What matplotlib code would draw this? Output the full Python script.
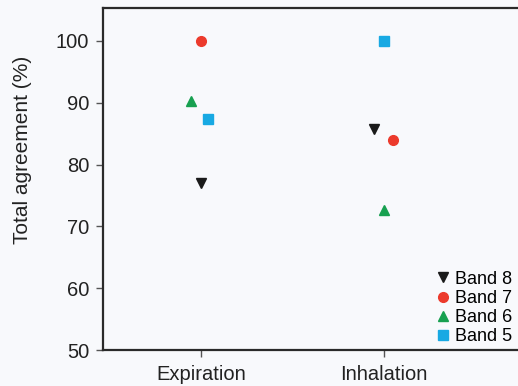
import numpy as np
import matplotlib
matplotlib.use('Agg')
import matplotlib.pyplot as plt

# categories and band values
phases = ['Expiration', 'Inhalation']
bands = ['Band 8', 'Band 7', 'Band 6', 'Band 5']
band8 = [77.0, 85.8]
band7 = [100.0, 84.0]
band6 = [90.3, 72.6]
band5 = [87.3, 100.0]

plt.rcParams['font.family'] = ['Liberation Sans', 'DejaVu Sans']

bg = '#f8f9fc'
fig = plt.figure(figsize=(5.18, 3.86), dpi=100, facecolor=bg)
ax = fig.add_axes([0.199, 0.093, 0.801, 0.886], facecolor=bg)

x = np.arange(len(phases))
# small horizontal offsets so markers don't overlap
ax.plot(x + np.array([0.0, -0.055]), band8, 'v', color='#1a1a1a', ms=7.5, ls='none', label=bands[0])
ax.plot(x + np.array([0.0, 0.045]), band7, 'o', color='#ec3a2c', ms=7, ls='none', label=bands[1])
ax.plot(x + np.array([-0.055, 0.0]), band6, '^', color='#17a050', ms=7.5, ls='none', label=bands[2])
ax.plot(x + np.array([0.04, 0.0]), band5, 's', color='#18a9e3', ms=7, ls='none', label=bands[3])

ax.set_xlim(-0.535, 1.73)
ax.set_ylim(50, 105.3)
ax.set_xticks(x)
ax.set_xticklabels(phases)
ax.set_yticks([50, 60, 70, 80, 90, 100])
ax.set_ylabel('Total agreement (%)', fontsize=15, color='#222222')
ax.yaxis.set_label_coords(-0.172, 0.585)

for s in ['left', 'bottom', 'top']:
    ax.spines[s].set_linewidth(1.6)
    ax.spines[s].set_color('#2a2a2a')
ax.spines['right'].set_visible(False)
ax.tick_params(direction='out', length=5, width=1, colors='#555555',
               labelsize=14.5, labelcolor='#222222')
ax.tick_params(axis='y', pad=5)
ax.tick_params(axis='x', pad=6)

leg = ax.legend(loc='lower right', bbox_to_anchor=(1.01, -0.015), frameon=False,
                fontsize=13, handletextpad=0.05, labelspacing=0.12,
                borderaxespad=0.15, handlelength=1.2)

fig.savefig('out.png', dpi=100, facecolor=bg)
